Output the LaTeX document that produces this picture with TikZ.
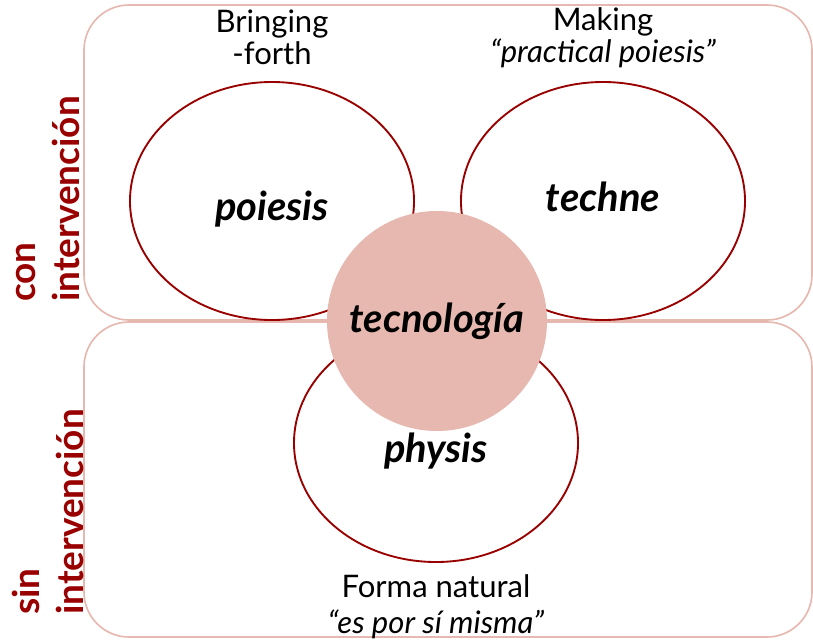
\documentclass[tikz,border=0pt]{standalone}
\usepackage{fontspec}
\setmainfont{Lato}
\usetikzlibrary{positioning, shapes.geometric}
\definecolor{tec_dark}{RGB}{153, 0, 0}
\definecolor{tec_pale}{RGB}{230, 184, 175}
\newcommand{\sunk}[2]{\raisebox{-#1}[0pt][0pt]{#2}}

\begin{document}
\begin{tikzpicture}[
        x=0.03cm, y=-0.03cm,
        zone/.style={draw=tec_pale, line width=1.4pt, rounded corners=1.35cm},
        concept/.style={ellipse, draw=tec_dark, fill=white, line width=1.6pt,
                        minimum width=8.52cm, minimum height=7.14cm,
                        font=\fontsize{34}{40}\selectfont\bfseries\itshape},
        hub/.style={circle, fill=tec_pale, minimum size=6.6cm,
                    font=\fontsize{34}{40}\selectfont\bfseries\itshape},
        note/.style={align=center, inner sep=0pt,
                     font=\fontsize{26.5}{27}\selectfont},
        side/.style={rotate=90, anchor=west, align=left, inner sep=0pt,
                     text=tec_dark, font=\fontsize{31.5}{38}\selectfont\bfseries},
      ]
        \useasboundingbox (0,0) rectangle (813,640);

        % two zones
        \draw[zone] (84,5) rectangle (812,320);
        \draw[zone] (84,322) rectangle (812,637);

        \node[side] (con) at (48,302) {con\\intervención};
        \node[side] (sin) at (48,615) {sin\\intervención};

        \node[concept] (poiesis) at (272,201) {\sunk{17pt}{poiesis}};
        \node[concept] (techne)  at (603,201) {\sunk{9pt}{techne}};
        \node[concept] (physis)  at (436,443) {\sunk{17pt}{physis}};
        \node[hub]     (tec)     at (437,321) {\sunk{10pt}{tecnología}};

        \node[note, above=14pt of poiesis] {Bringing\\-forth};
        \node[note, above=11.5pt of techne]  {Making\\\textit{“practical poiesis”}};
        \node[note, below=9.5pt of physis, font=\fontsize{26.5}{31}\selectfont]
          {Forma natural\\\textit{“es por sí misma”}};
      \end{tikzpicture}
\end{document}
